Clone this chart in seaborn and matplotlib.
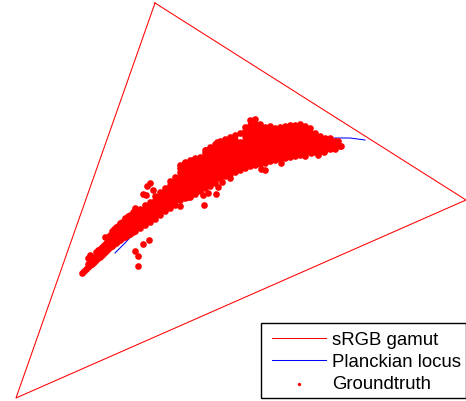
import matplotlib
matplotlib.use("Agg")
import matplotlib.pyplot as plt
from matplotlib.patches import Rectangle
import pandas as pd
import seaborn as sns

# triangulo sRGB y locus
gamut_x = [155, 466, 16, 155]
gamut_y = [3, 200, 398, 3]
locus_x = [115, 125, 150, 200, 250, 300, 330, 350, 365]
locus_y = [253, 243, 216, 176, 150, 138, 138, 138, 140]

# nube groundtruth: x -> valores de y
cloud = {
    82: [273], 84: [271], 86: [269], 88: [267, 264], 90: [265, 262], 92: [264, 260],
    94: [262, 258], 96: [260, 256, 252], 98: [258, 254, 250],
    100: [257, 253, 249], 102: [255, 251, 247], 104: [253, 249, 245], 106: [251, 247, 243],
    108: [249, 245, 241, 237], 110: [247, 243, 239, 235],
    112: [246, 242, 238, 234, 231], 114: [244, 240, 236, 232, 229], 116: [243, 239, 235, 231, 227],
    118: [241, 237, 233, 229, 226],
    120: [240, 236, 232, 228, 224], 122: [238, 234, 230, 226, 222],
    125: [237, 233, 229, 225, 221, 218], 128: [235, 231, 227, 223, 219, 216],
    130: [234, 230, 226, 222, 218, 215], 133: [232, 228, 224, 220, 216, 212], 135: [231, 227, 223, 219, 215, 211],
    140: [228, 225, 221, 217, 213, 209], 145: [225, 221, 217, 213, 209, 205],
    150: [222, 218, 214, 210, 206, 202], 155: [219, 216, 212, 208, 204, 200, 196],
    160: [215, 212, 208, 204, 200, 196, 192], 165: [211, 208, 204, 200, 196, 192, 188],
    170: [208, 205, 201, 197, 193, 189, 185, 181], 175: [205, 201, 197, 193, 189, 185, 181, 177],
    180: [200, 196, 192, 188, 184, 180, 176, 172, 168, 165],
    185: [198, 195, 191, 187, 183, 179, 175, 171, 167, 163],
    190: [196, 192, 188, 184, 180, 176, 172, 168, 164, 160],
    195: [194, 190, 186, 182, 178, 174, 170, 166, 162, 158],
    200: [191, 188, 184, 180, 176, 172, 168, 164, 160, 157],
    205: [188, 185, 181, 177, 173, 169, 165, 161, 157, 153, 150],
    210: [186, 183, 179, 175, 171, 167, 163, 159, 155, 151, 147],
    215: [183, 180, 176, 172, 168, 164, 160, 156, 152, 148, 144],
    220: [178, 174, 170, 166, 162, 158, 154, 150, 146, 141],
    225: [176, 172, 168, 164, 160, 156, 152, 148, 144, 139],
    230: [174, 170, 166, 162, 158, 154, 150, 146, 142, 137],
    235: [172, 168, 164, 160, 156, 152, 148, 144, 140, 135],
    240: [170, 166, 162, 158, 154, 150, 146, 142, 133],
    245: [168, 164, 160, 156, 152, 148, 144, 140, 136, 131, 127],
    250: [166, 162, 158, 154, 150, 146, 142, 138, 134, 130, 125, 120],
    255: [165, 161, 157, 153, 149, 145, 141, 137, 133, 129, 124, 119],
    260: [164, 160, 156, 152, 148, 144, 140, 136, 132, 128, 124],
    265: [163, 159, 155, 151, 147, 143, 139, 135, 131, 127],
    270: [161, 157, 153, 149, 145, 141, 137, 133, 129, 126],
    275: [160, 156, 152, 148, 144, 140, 136, 132, 128],
    280: [159, 155, 151, 147, 143, 139, 135, 131, 127],
    285: [158, 154, 150, 146, 142, 138, 134, 130, 126],
    290: [157, 153, 149, 145, 141, 137, 133, 129, 125],
    295: [156, 152, 148, 144, 140, 136, 132, 128, 125],
    300: [155, 151, 147, 143, 139, 135, 131, 127, 124],
    305: [153, 149, 145, 141, 137, 133, 129, 126],
    310: [152, 148, 144, 140, 136, 132, 128],
    315: [152, 148, 144, 140, 136, 133],
    320: [151, 147, 143, 139, 136], 325: [150, 146, 142, 138],
    330: [149, 145, 141, 138], 335: [149, 145, 141], 340: [146],
}
# puntos sueltos fuera de la banda
outliers_x = [135, 138, 138, 143, 149, 180, 204, 188, 203, 216, 218, 208, 190, 222, 230,
              261, 265, 281, 305, 311, 318, 324, 338, 341,
              90, 88, 105, 120, 135, 143, 147, 150, 153, 146, 185, 193, 206, 217]
outliers_y = [251, 256, 266, 244, 240, 206, 205, 197, 195, 194, 187, 193, 197, 182, 178,
              169, 170, 163, 156, 153, 155, 152, 141, 146,
              255, 258, 237, 223, 208, 194, 186, 183, 190, 195, 162, 160, 150, 142]

gt_x = [x for x, ys in cloud.items() for _ in ys] + outliers_x
gt_y = [y for ys in cloud.values() for y in ys] + outliers_y

plt.rcParams["font.family"] = ["Liberation Sans", "DejaVu Sans"]
fig = plt.figure(figsize=(4.66, 4.01), dpi=100)
ax = fig.add_axes([0, 0, 1, 1])

df_gamut = pd.DataFrame({"x": gamut_x, "y": gamut_y})
df_locus = pd.DataFrame({"x": locus_x, "y": locus_y})
df_gt = pd.DataFrame({"x": gt_x, "y": gt_y})

sns.lineplot(data=df_gamut, x="x", y="y", sort=False, estimator=None, color="#ff0000",
             linewidth=0.75, label="sRGB gamut", ax=ax, zorder=2)
sns.lineplot(data=df_locus, x="x", y="y", sort=False, estimator=None, color="#0000ff",
             linewidth=0.75, label="Planckian locus", ax=ax, zorder=2)
sns.scatterplot(data=df_gt, x="x", y="y", color="#ff0000", s=23, linewidth=0,
                label="Groundtruth", ax=ax, zorder=3)

ax.set_xlim(0, 466)
ax.set_ylim(401, 0)
ax.axis("off")

# recuadro de la leyenda aparte, el relleno izquierdo es mayor que el derecho
ax.add_patch(Rectangle((261, 323), 204.5, 75, facecolor="white", edgecolor="black",
                       linewidth=1.0, zorder=4))
leg = ax.legend(loc="upper left", bbox_to_anchor=(272 / 466, 1 - 331.5 / 401), borderaxespad=0,
                fontsize=13.45, frameon=False, handlelength=2.9, labelspacing=0.27, borderpad=0,
                handletextpad=0.33, markerscale=0.5)
leg.set_zorder(5)

fig.savefig("out.png", dpi=100)
